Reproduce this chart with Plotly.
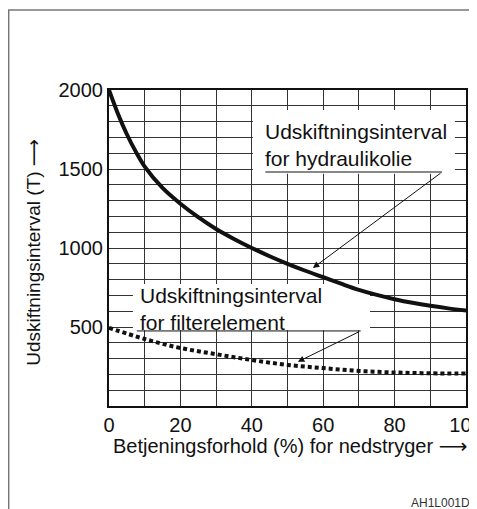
import plotly.graph_objects as go

# Betjeningsforhold (%) for nedstryger -> udskiftningsinterval (T)
x_olie = [0, 2.5, 5, 7.5, 10, 15, 20, 25, 30, 35, 40, 45, 50, 55, 60, 65, 70, 75, 80, 85, 90, 95, 100]
y_olie = [2000, 1850, 1720, 1610, 1515, 1380, 1280, 1195, 1120, 1057, 1000, 948, 900, 856, 815, 774, 735, 703, 676, 653, 634, 618, 605]

x_filter = [0, 10, 20, 30, 40, 50, 60, 70, 80, 90, 100]
y_filter = [495, 424, 367, 328, 291, 260, 240, 222, 212, 207, 205]

x_ticks = list(range(0, 101, 10))
x_labels = [str(v) if v % 20 == 0 else "" for v in x_ticks]
y_ticks = list(range(0, 2001, 100))
y_labels = [str(v) if v % 500 == 0 and v > 0 else "" for v in y_ticks]

FONT = "Liberation Sans, Arial, sans-serif"
ARROW = '<span style="font-family:DejaVu Sans">⟶</span>'

fig = go.Figure()

fig.add_trace(go.Scatter(
    x=x_olie, y=y_olie, mode="lines",
    line=dict(color="#111", width=4, shape="spline"),
    showlegend=False, hoverinfo="skip"))

fig.add_trace(go.Scatter(
    x=x_filter, y=y_filter, mode="lines",
    line=dict(color="#111", width=4, shape="spline", dash="4px,3px"),
    showlegend=False, hoverinfo="skip"))

# ramme rundt om figuren
fig.add_shape(type="rect", xref="paper", yref="paper",
              x0=-0.281, x1=1.2, y0=-0.5, y1=1.253,
              line=dict(color="#777", width=1.5), fillcolor="rgba(0,0,0,0)")

# hvide felter bag etiketterne (dækker gitteret, ikke kurverne)
fig.add_shape(type="rect", x0=40.3, x1=96.9, y0=1470, y1=1873, layer="between",
              line=dict(width=0), fillcolor="white")
fig.add_shape(type="rect", x0=6.7, x1=73.1, y0=480, y1=772, layer="between",
              line=dict(width=0), fillcolor="white")

# understregning under etiketterne
fig.add_shape(type="line", x0=43.8, x1=93.3, y0=1481, y1=1481,
              line=dict(color="#111", width=1))
fig.add_shape(type="line", x0=7.8, x1=70.5, y0=475, y1=475,
              line=dict(color="#111", width=1))

fig.add_annotation(
    x=43.1, y=1652, xanchor="left", yanchor="middle",
    text="Udskiftningsinterval<br>for hydraulikolie",
    showarrow=False, align="left",
    font=dict(family=FONT, size=21, color="#111"))

fig.add_annotation(
    x=8.1, y=617, xanchor="left", yanchor="middle",
    text="Udskiftningsinterval<br>for filterelement",
    showarrow=False, align="left",
    font=dict(family=FONT, size=21, color="#111"))

# pile
fig.add_annotation(x=57.1, y=873, ax=93.3, ay=1481, axref="x", ayref="y",
                   text="", showarrow=True, arrowhead=2, arrowsize=1.3,
                   arrowwidth=1, arrowcolor="#111")
fig.add_annotation(x=52.9, y=280, ax=70.5, ay=475, axref="x", ayref="y",
                   text="", showarrow=True, arrowhead=2, arrowsize=1.3,
                   arrowwidth=1, arrowcolor="#111")

# aksetitler
fig.add_annotation(xref="paper", yref="paper", x=-0.213, y=0.488,
                   xanchor="center", yanchor="middle",
                   text="Udskiftningsinterval (T) " + ARROW, textangle=-90,
                   showarrow=False, font=dict(family=FONT, size=19, color="#111"))
fig.add_annotation(xref="paper", yref="paper", x=0.507, y=-0.126,
                   xanchor="center", yanchor="middle",
                   text="Betjeningsforhold (%) for nedstryger " + ARROW,
                   showarrow=False, font=dict(family=FONT, size=20, color="#111"))
fig.add_annotation(xref="paper", yref="paper", x=0.840, y=-0.307,
                   xanchor="left", yanchor="middle", text="AH1L001DA",
                   showarrow=False, font=dict(family=FONT, size=12, color="#333"))

fig.update_xaxes(range=[0, 100], tickmode="array", tickvals=x_ticks, ticktext=x_labels,
                 showgrid=True, gridcolor="#333", gridwidth=1.2,
                 showline=True, linecolor="#111", linewidth=2, mirror=True,
                 ticks="", zeroline=False, ticklabeloverflow="allow", automargin=False,
                 tickfont=dict(family=FONT, size=20, color="#111"))
fig.update_yaxes(range=[0, 2000], tickmode="array", tickvals=y_ticks, ticktext=y_labels,
                 showgrid=True, gridcolor="#333", gridwidth=1.2,
                 showline=True, linecolor="#111", linewidth=2, mirror=True,
                 ticks="", zeroline=False, automargin=False,
                 tickfont=dict(family=FONT, size=20, color="#111"))

# siden har 8 px margen, så figuren gøres tilsvarende mindre
fig.update_layout(
    width=469, height=501,
    margin=dict(l=101, r=11, t=82, b=103),
    plot_bgcolor="white", paper_bgcolor="white",
    showlegend=False,
)

fig.write_html("out.html")
